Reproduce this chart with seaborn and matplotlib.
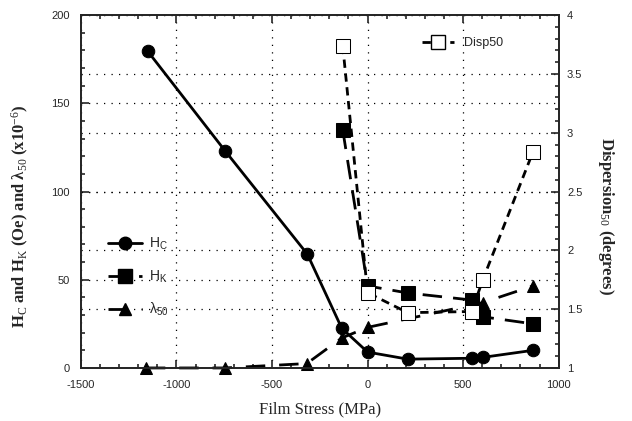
import numpy as np
import pandas as pd
import matplotlib
matplotlib.use("Agg")
import matplotlib.pyplot as plt
from matplotlib.ticker import MultipleLocator, FuncFormatter
from matplotlib.lines import Line2D
import seaborn as sns

# values
hc_stress = [-1150, -745, -315, -135, 0, 210, 545, 603, 866]
hc_values = [179.5, 123, 64.5, 22.5, 9, 5, 5.5, 6, 10]

hk_stress = [-130, 0, 210, 545, 603, 866]
hk_values = [135, 46.5, 42.5, 38.5, 29, 25]

lam_stress = [-1160, -747, -318, -135, 0, 602, 866]
lam_values = [0, 0, 2.5, 17, 23, 37, 46.5]

disp_stress = [-130, 0, 210, 545, 603, 866]
disp_values = [3.74, 1.64, 1.47, 1.48, 1.75, 2.84]

sns.set_style("ticks")
plt.rcParams["font.family"] = ["Liberation Sans", "DejaVu Sans"]
plt.rcParams["axes.unicode_minus"] = False
plt.rcParams["mathtext.fontset"] = "custom"
plt.rcParams["mathtext.rm"] = "Liberation Serif"
plt.rcParams["mathtext.it"] = "Liberation Serif:italic"
plt.rcParams["mathtext.sf"] = "Liberation Sans"

fig = plt.figure(figsize=(6.32, 4.21), dpi=100)
ax = fig.add_axes([0.128, 0.126, 0.756, 0.838])
ax2 = ax.twinx()

hc = pd.DataFrame({"stress": hc_stress, "value": hc_values})
hk = pd.DataFrame({"stress": hk_stress, "value": hk_values})
lam = pd.DataFrame({"stress": lam_stress, "value": lam_values})
disp = pd.DataFrame({"stress": disp_stress, "value": disp_values})

sns.lineplot(data=hc, x="stress", y="value", ax=ax, color="black", lw=2,
             marker="o", markersize=9, markeredgecolor="black", zorder=5)
sns.lineplot(data=hk, x="stress", y="value", ax=ax, color="black", lw=2,
             marker="s", markersize=10, markeredgecolor="black", zorder=5)
ax.lines[-1].set_dashes([7, 4])
sns.lineplot(data=lam, x="stress", y="value", ax=ax, color="black", lw=2,
             marker="^", markersize=9, markeredgecolor="black", zorder=5)
ax.lines[-1].set_dashes([7, 5])
sns.lineplot(data=disp, x="stress", y="value", ax=ax2, color="black", lw=2,
             marker="s", markersize=10, markerfacecolor="white",
             markeredgecolor="black", zorder=5)
ax2.lines[-1].set_dashes([3, 2])
for ln in ax.lines + ax2.lines:
    ln.set_clip_on(False)

ax.set_xlim(-1500, 1000)
ax.set_ylim(0, 200)
ax2.set_ylim(1, 4)

ax.xaxis.set_major_locator(MultipleLocator(500))
ax.xaxis.set_minor_locator(MultipleLocator(100))
ax.yaxis.set_major_locator(MultipleLocator(50))
ax.yaxis.set_minor_locator(MultipleLocator(10))
ax2.yaxis.set_major_locator(MultipleLocator(0.5))
ax2.yaxis.set_minor_locator(MultipleLocator(0.1))
ax2.yaxis.set_major_formatter(FuncFormatter(lambda v, p: f"{v:g}"))

ax.grid(True, which="major", color="black", linestyle=(0, (1, 5)), lw=0.9)
ax2.grid(True, which="major", axis="y", color="black", linestyle=(0, (1, 5)), lw=0.9)
ax.set_axisbelow(True)
ax2.set_axisbelow(True)

for a in (ax, ax2):
    for s in a.spines.values():
        s.set_linewidth(1.3)
        s.set_visible(True)
ax.tick_params(which="both", direction="in", top=True, right=False,
               labelsize=8, width=1.2)
ax.tick_params(axis="x", pad=9)
ax.tick_params(axis="y", pad=8)
ax.tick_params(which="major", length=6)
ax.tick_params(which="minor", length=3)
ax2.tick_params(which="both", direction="in", labelsize=8, width=1.2, pad=6)
ax2.tick_params(which="major", length=6)
ax2.tick_params(which="minor", length=3)

serif = ["Liberation Serif", "DejaVu Serif"]
ax.set_xlabel("Film Stress (MPa)", family=serif, fontsize=12, labelpad=8)
ax.set_ylabel(r"H$_\mathrm{C}$ and H$_\mathrm{K}$ (Oe) and λ$_{50}$ (x10$^{-6}$)",
              family=serif, fontsize=12, fontweight="bold")
ax.yaxis.set_label_coords(-0.105, 0.43)
ax2.set_ylabel(r"Dispersion$_{50}$ (degrees)", family=serif, fontsize=12,
               fontweight="bold", rotation=-90)
ax2.yaxis.set_label_coords(1.12, 0.43)

h1 = [Line2D([], [], color="black", lw=2, marker="o", markersize=9),
      Line2D([], [], color="black", lw=2, marker="s", markersize=10, dashes=[7, 4]),
      Line2D([], [], color="black", lw=2, marker="^", markersize=9, dashes=[7, 5])]
ax.legend(h1, [r"H$_\mathsf{C}$", r"H$_\mathsf{K}$", r"λ$_\mathsf{50}$"],
          loc="upper left", bbox_to_anchor=(0.03, 0.41), frameon=False,
          handlelength=2.5, handletextpad=0.5, labelspacing=1.2, fontsize=10)
ax2.legend([Line2D([], [], color="black", lw=2, marker="s", markersize=10,
                   markerfacecolor="white", dashes=[3, 2])], ["Disp50"],
           loc="upper left", bbox_to_anchor=(0.69, 0.97), frameon=False,
           handlelength=2.6, fontsize=9)

fig.savefig("out.png", dpi=100)
